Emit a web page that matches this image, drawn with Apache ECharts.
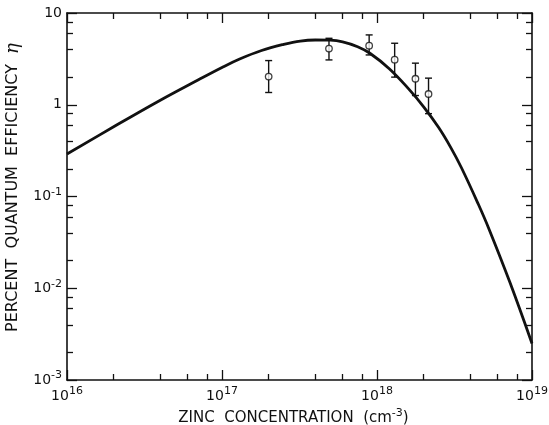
<!DOCTYPE html>
<html>
<head>
    <meta charset="utf-8"/>
    <script src="https://cdn.jsdelivr.net/npm/echarts@6/dist/echarts.min.js"></script>
</head>
<body style="margin:0;background:#fff;">
<div id="main" style="width:549px;height:425px;"></div>
<script type="text/javascript">
    // theory curve
    var curveConc = [1e16, 2e16, 4e16, 7e16, 1e17, 1.3e17, 1.8e17, 2.5e17, 3.2e17, 4e17, 5e17, 6e17,
        7.5e17, 9e17, 1.2e18, 1.6e18, 2e18, 2.5e18, 3e18, 3.5e18, 4.5e18, 5.3e18, 7.2e18, 1e19];
    var curveEff = [0.29, 0.575, 1.12, 1.86, 2.55, 3.15, 3.9, 4.55, 4.95, 5.08, 5.05, 4.84,
        4.29, 3.64, 2.47, 1.49, 0.95, 0.564, 0.339, 0.207, 0.0828, 0.0435, 0.0116, 0.0025];

    // measured points with error bars
    var pointConc = [2e17, 4.9e17, 8.9e17, 1.3e18, 1.77e18, 2.15e18];
    var pointEff = [2.03, 4.1, 4.4, 3.1, 1.92, 1.31];
    var errLow = [1.36, 3.08, 3.49, 2.0, 1.26, 0.80];
    var errHigh = [3.03, 5.3, 5.77, 4.68, 2.84, 1.95];

    // axis ticks
    var xMajor = [1e16, 1e17, 1e18, 1e19];
    var yMajor = [1e-3, 1e-2, 1e-1, 1, 10];
    var mantissa = [2, 4, 6, 8];

    var xMinor = [], yMinor = [];
    xMajor.slice(0, -1).forEach(function (d) {
        mantissa.forEach(function (m) { xMinor.push(m * d); });
    });
    yMajor.slice(0, -1).forEach(function (d) {
        mantissa.forEach(function (m) { yMinor.push(m * d); });
    });

    var font = 'DejaVu Sans';
    var ink = '#111';

    var rich = {
        b: {fontFamily: font, fontSize: 14, color: ink, lineHeight: 20},
        s: {fontFamily: font, fontSize: 11, color: ink, verticalAlign: 'top'}
    };

    function powLabel(v) {
        var e = Math.round(Math.log10(v));
        if (e === 0) return '{b|1}';
        if (e === 1) return '{b|10}';
        return '{b|10}{s|' + e + '}';
    }

    function axis(dir, pos, ticks, len, main) {
        return {
            type: 'log',
            position: pos,
            min: dir === 'x' ? 1e16 : 1e-3,
            max: dir === 'x' ? 1e19 : 10,
            axisLine: {show: main, lineStyle: {color: ink, width: 1.6}},
            axisTick: {inside: true, length: len, customValues: ticks, lineStyle: {color: ink, width: 1.3}},
            axisLabel: {show: false},
            splitLine: {show: false},
            minorTick: {show: false}
        };
    }

    var xAxes = [
        axis('x', 'bottom', xMajor, 10, true),
        axis('x', 'bottom', xMinor, 6, false),
        axis('x', 'top', xMajor, 10, true),
        axis('x', 'top', xMinor, 6, false)
    ];
    xAxes[0].axisLabel = {show: true, customValues: xMajor, formatter: powLabel, rich: rich, margin: 6};
    xAxes[0].name = '{n|ZINC  CONCENTRATION  (cm}{s|-3}{n|)}';
    xAxes[0].nameLocation = 'middle';
    xAxes[0].nameGap = 23;
    xAxes[0].nameTextStyle = {
        padding: [0, 12, 0, 0],
        rich: {
            n: {fontFamily: font, fontSize: 15, color: ink, lineHeight: 20},
            s: {fontFamily: font, fontSize: 11, color: ink, verticalAlign: 'top'}
        }
    };

    var yAxes = [
        axis('y', 'left', yMajor, 10, true),
        axis('y', 'left', yMinor, 6, false),
        axis('y', 'right', yMajor, 10, true),
        axis('y', 'right', yMinor, 6, false)
    ];
    yAxes[0].axisLabel = {show: true, customValues: yMajor, formatter: powLabel, rich: rich, margin: 5};
    yAxes[0].name = 'PERCENT  QUANTUM  EFFICIENCY  {e|η}';
    yAxes[0].nameLocation = 'middle';
    yAxes[0].nameRotate = 90;
    yAxes[0].nameGap = 32;
    yAxes[0].nameTextStyle = {
        fontFamily: font, fontSize: 16, color: ink, padding: [0, 0, 0, 18],
        rich: {e: {fontFamily: 'DejaVu Serif', fontStyle: 'italic', fontSize: 18, color: ink}}
    };

    var myChart = echarts.init(document.getElementById('main'));

    var option = {
        backgroundColor: '#fff',
        animation: false,
        grid: {left: 67, right: 17, top: 13, bottom: 45, outerBoundsMode: 'none'},
        xAxis: xAxes,
        yAxis: yAxes,
        series: [
            {
                type: 'line',
                data: curveConc.map(function (c, i) { return [c, curveEff[i]]; }),
                smooth: 0.4,
                showSymbol: false,
                lineStyle: {color: ink, width: 2.8}
            },
            {
                type: 'custom',
                data: pointConc.map(function (c, i) { return [c, errLow[i], errHigh[i]]; }),
                renderItem: function (params, api) {
                    var lo = api.coord([api.value(0), api.value(1)]);
                    var hi = api.coord([api.value(0), api.value(2)]);
                    var w = 3.5;
                    var st = {stroke: ink, lineWidth: 1.4};
                    return {
                        type: 'group',
                        children: [
                            {type: 'line', shape: {x1: lo[0], y1: lo[1], x2: hi[0], y2: hi[1]}, style: st},
                            {type: 'line', shape: {x1: lo[0] - w, y1: lo[1], x2: lo[0] + w, y2: lo[1]}, style: st},
                            {type: 'line', shape: {x1: hi[0] - w, y1: hi[1], x2: hi[0] + w, y2: hi[1]}, style: st}
                        ]
                    };
                },
                z: 3
            },
            {
                type: 'scatter',
                data: pointConc.map(function (c, i) { return [c, pointEff[i]]; }),
                symbol: 'circle',
                symbolSize: 6.5,
                itemStyle: {color: '#fff', borderColor: ink, borderWidth: 1.3},
                z: 4
            }
        ]
    };

    myChart.setOption(option);
</script>
</body>
</html>
